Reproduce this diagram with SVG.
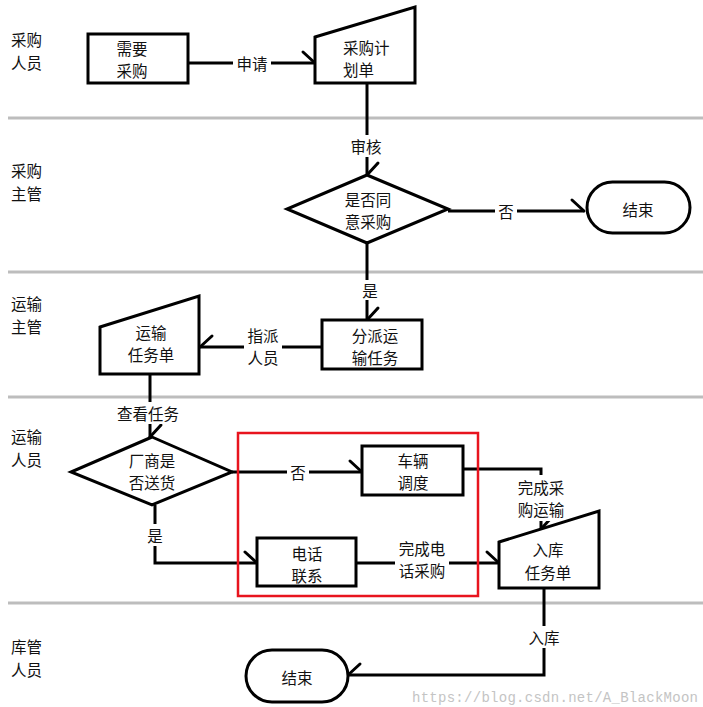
<svg xmlns="http://www.w3.org/2000/svg" width="703" height="707" viewBox="0 0 703 707">
<defs>
<style>
.lane{stroke:#bdbdbd;stroke-width:3}
.shape{fill:#fff;stroke:#000;stroke-width:3}
.c{fill:none;stroke:#000;stroke-width:3}
.red{fill:none;stroke:#e8141e;stroke-width:2.5}
text{font-family:"Noto Sans CJK SC","Noto Sans",sans-serif;font-size:15.5px;fill:#111;dominant-baseline:central}
.m{text-anchor:middle}
.bg{fill:#fff}
.wm{font-family:"Liberation Mono",monospace;font-size:14px;fill:#c4c4c4;dominant-baseline:auto}
</style>
<marker id="a" markerUnits="userSpaceOnUse" viewBox="-14 -14 28 28" refX="0" refY="0" markerWidth="28" markerHeight="28" orient="auto" overflow="visible"><path d="M-12,-11 L0,0" fill="none" stroke="#000" stroke-width="3" stroke-linecap="round"/></marker>
<marker id="b" markerUnits="userSpaceOnUse" viewBox="-14 -14 28 28" refX="0" refY="0" markerWidth="28" markerHeight="28" orient="auto" overflow="visible"><path d="M-12,11 L0,0" fill="none" stroke="#000" stroke-width="3" stroke-linecap="round"/></marker>
</defs>
<rect width="703" height="707" fill="#fff"/>
<g id="lanes">
<line class="lane" x1="8" y1="118" x2="703" y2="118"/>
<line class="lane" x1="8" y1="272" x2="703" y2="272"/>
<line class="lane" x1="8" y1="397" x2="703" y2="397"/>
<line class="lane" x1="8" y1="603" x2="703" y2="603"/>
<text x="11" y="39">采购<tspan x="11" dy="22.5">人员</tspan></text>
<text x="11" y="170">采购<tspan x="11" dy="22.5">主管</tspan></text>
<text x="11" y="303">运输<tspan x="11" dy="22.5">主管</tspan></text>
<text x="11" y="436">运输<tspan x="11" dy="22.5">人员</tspan></text>
<text x="11" y="646">库管<tspan x="11" dy="22.5">人员</tspan></text>
</g>
<g id="connectors">
<path class="c" d="M188,63 H315" marker-end="url(#a)"/>
<path class="c" d="M367,83 V175" marker-end="url(#a)"/>
<path class="c" d="M448,211 H584" marker-end="url(#a)"/>
<path class="c" d="M367,243 V320" marker-end="url(#a)"/>
<path class="c" d="M322,347 H200" marker-end="url(#b)"/>
<path class="c" d="M150,374 V437" marker-end="url(#a)"/>
<path class="c" d="M232,472 H362" marker-end="url(#a)"/>
<path class="c" d="M155,505 V563 H257" marker-end="url(#a)"/>
<path class="c" d="M356,563 H499" marker-end="url(#a)"/>
<path class="c" d="M463,469 H541 V529" marker-end="url(#a)"/>
<path class="c" d="M544,588 V675 H348" marker-end="url(#b)"/>
<rect class="bg" x="233" y="52" width="38" height="22"/><text class="m" x="252" y="63">申请</text>
<rect class="bg" x="347" y="135" width="38" height="22"/><text class="m" x="366" y="146">审核</text>
<rect class="bg" x="495" y="200" width="22" height="22"/><text class="m" x="506" y="211">否</text>
<rect class="bg" x="360" y="280" width="20" height="20"/><text class="m" x="370" y="290">是</text>
<rect class="bg" x="244" y="323" width="38" height="46"/><text class="m" x="263" y="334.5">指派<tspan x="263" dy="22.5">人员</tspan></text>
<rect class="bg" x="113" y="402" width="70" height="22"/><text class="m" x="148" y="413">查看任务</text>
<rect class="bg" x="287" y="461" width="22" height="22"/><text class="m" x="298" y="472">否</text>
<rect class="bg" x="145" y="524" width="20" height="22"/><text class="m" x="155" y="535">是</text>
<rect class="bg" x="395" y="536" width="54" height="46"/><text class="m" x="422" y="547.5">完成电<tspan x="422" dy="22.5">话采购</tspan></text>
<rect class="bg" x="514" y="475" width="54" height="46"/><text class="m" x="541" y="486.5">完成采<tspan x="541" dy="22.5">购运输</tspan></text>
<rect class="bg" x="525" y="626" width="38" height="22"/><text class="m" x="544" y="637">入库</text>
</g>
<g id="n-need">
<rect class="shape" x="88" y="34" width="100" height="49"/>
<text class="m" x="132" y="47.5">需要<tspan x="132" dy="22.5">采购</tspan></text>
</g>
<g id="n-plan">
<polygon class="shape" points="315,37 415,7 415,83 315,83"/>
<text x="343" y="46.5">采购计<tspan x="343" dy="22.5">划单</tspan></text>
</g>
<g id="n-agree">
<polygon class="shape" points="367,175 448,209 367,243 287,209"/>
<text class="m" x="368" y="198.5">是否同<tspan x="368" dy="22.5">意采购</tspan></text>
</g>
<g id="n-end1">
<rect class="shape" x="587" y="182" width="103" height="51" rx="25.5"/>
<text class="m" x="638" y="209">结束</text>
</g>
<g id="n-assign">
<rect class="shape" x="322" y="320" width="100" height="49"/>
<text class="m" x="375" y="334.5">分派运<tspan x="375" dy="22.5">输任务</tspan></text>
</g>
<g id="n-task">
<polygon class="shape" points="100,327 199,296 199,374 100,374"/>
<text class="m" x="151" y="331.5">运输<tspan x="151" dy="22.5">任务单</tspan></text>
</g>
<g id="n-deliver">
<polygon class="shape" points="152,437 232,472 152,505 71,472"/>
<text class="m" x="152" y="459.5">厂商是<tspan x="152" dy="22.5">否送货</tspan></text>
</g>
<g id="n-vehicle">
<rect class="shape" x="362" y="446" width="101" height="49"/>
<text class="m" x="413" y="459.5">车辆<tspan x="413" dy="22.5">调度</tspan></text>
</g>
<g id="n-phone">
<rect class="shape" x="257" y="538" width="99" height="48"/>
<text class="m" x="307" y="552.5">电话<tspan x="307" dy="22.5">联系</tspan></text>
</g>
<g id="n-stock">
<polygon class="shape" points="499,542 599,511 599,588 499,588"/>
<text class="m" x="548" y="549">入库<tspan x="548" dy="22.5">任务单</tspan></text>
</g>
<g id="n-end2">
<rect class="shape" x="246" y="650" width="102" height="52" rx="26"/>
<text class="m" x="297" y="677">结束</text>
</g>
<rect class="red" x="238" y="433" width="240" height="163"/>
<text class="wm" x="412" y="702" textLength="286">https://blog.csdn.net/A_BlackMoon</text>
</svg>
